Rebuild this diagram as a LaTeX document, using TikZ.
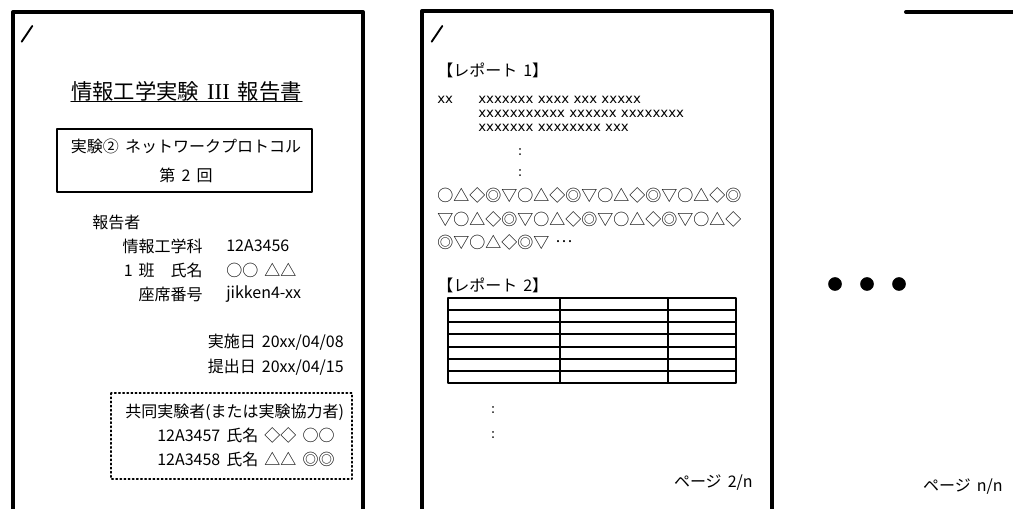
\documentclass[tikz,border=0pt]{standalone}
\usepackage{fontspec}
\setmainfont[WordSpace=1.7]{Noto Sans CJK JP}
\newfontfamily\xfont{DejaVu Sans}
\newfontfamily\romfont{Liberation Serif}
\tikzset{
	pageedge/.style={line width=3pt},
	txt/.style={inner sep=0pt, font=\fontsize{12}{14}\selectfont},
	xtxt/.style={inner sep=0pt, font=\xfont\fontsize{10}{12}\selectfont},
}
\begin{document}
\begin{tikzpicture}[x=0.75pt, y=-0.75pt, line join=round, line cap=round]
	\useasboundingbox (0,0) rectangle (1013,509);
	\draw[pageedge] (13,511)--(13,12)--(363,12)--(363,511);
	\draw[pageedge] (422,511)--(422,11)--(772,11)--(772,511);
	\draw[pageedge] (906,12)--(1015,12);
	\draw[line width=1.4pt] (21.7,41.7)--(32.3,26);
	\draw[line width=1.4pt] (431.7,41.7)--(442.3,26);
	% page 1
	\node (title) at (186.5,91) [txt, font=\fontsize{16}{19}\selectfont]{情報工学実験 {\romfont\fontsize{17}{19}\selectfont III} 報告書};
	\draw[line width=.75pt] (title.south west)--(title.south east);
	\draw[line width=1.5pt] (57,129) rectangle (312,192);
	\node (exp) at (186,146) [txt]{実験② ネットワークプロトコル};
	\node (round) at (186,175) [txt]{第 2 回};
	\node (author) at (92,222) [txt, right]{報告者};
	\node (dept) at (203,246) [txt, left]{情報工学科};
	\node (group) at (203,270) [txt, left]{1 班　氏名};
	\node (seat) at (203,294) [txt, left]{座席番号};
	\node (deptv) at (226,246) [txt, right]{12A3456};
	\node (groupv) at (226,270) [txt, right]{○○ △△};
	\node (seatv) at (226,294) [txt, right]{jikken4-xx};
	\node (held) at (344,342) [txt, left]{実施日 20xx/04/08};
	\node (due) at (344,367) [txt, left]{提出日 20xx/04/15};
	\draw[line width=1.1pt, dotted] (111,393) rectangle (352,479);
	\node (joint) at (125,412) [txt, right]{共同実験者(または実験協力者)};
	\node (mate1) at (157,435) [txt, right]{12A3457 氏名 ◇◇ ○○};
	\node (mate2) at (157,459) [txt, right]{12A3458 氏名 △△ ◎◎};
	% page 2
	\node (rep1) at (437,70) [txt, right]{【レポート 1】};
	\node (xx) at (437,100) [xtxt, right]{xx};
	\node (xa) at (478,100) [xtxt, right]{xxxxxxx xxxx xxx xxxxx};
	\node (xb) at (478,114) [xtxt, right]{xxxxxxxxxxx xxxxxx xxxxxxxx};
	\node (xc) at (478,128) [xtxt, right]{xxxxxxx xxxxxxxx xxx};
	\node (vdots1) at (520,152) [xtxt]{:};
	\node (vdots2) at (520,173) [xtxt]{:};
	\node (syma) at (437,195) [txt, right]{○△◇◎▽○△◇◎▽○△◇◎▽○△◇◎};
	\node (symb) at (437,219) [txt, right]{▽○△◇◎▽○△◇◎▽○△◇◎▽○△◇};
	\node (symc) at (437,242) [txt, right]{◎▽○△◇◎▽ \raisebox{.32em}{…}};
	\node (rep2) at (437,285) [txt, right]{【レポート 2】};
	\draw[line width=1.5pt] (448,298) rectangle (736,383);
	\foreach \i in {1,...,6}
		\draw[line width=1.5pt] (448,298+12.14*\i)--(736,298+12.14*\i);
	\draw[line width=1.5pt] (560,298)--(560,383) (668,298)--(668,383);
	\node (vdots3) at (493,410) [xtxt]{:};
	\node (vdots4) at (493,435) [xtxt]{:};
	\node (pg2) at (753,483) [txt, left]{ページ 2/n};
	% page n
	\draw[fill=black] (835,284) circle (6.5);
	\draw[fill=black] (867,284) circle (6.5);
	\draw[fill=black] (899,284) circle (6.5);
	\node (pgn) at (1003,487) [txt, left]{ページ n/n};
\end{tikzpicture}
\end{document}
